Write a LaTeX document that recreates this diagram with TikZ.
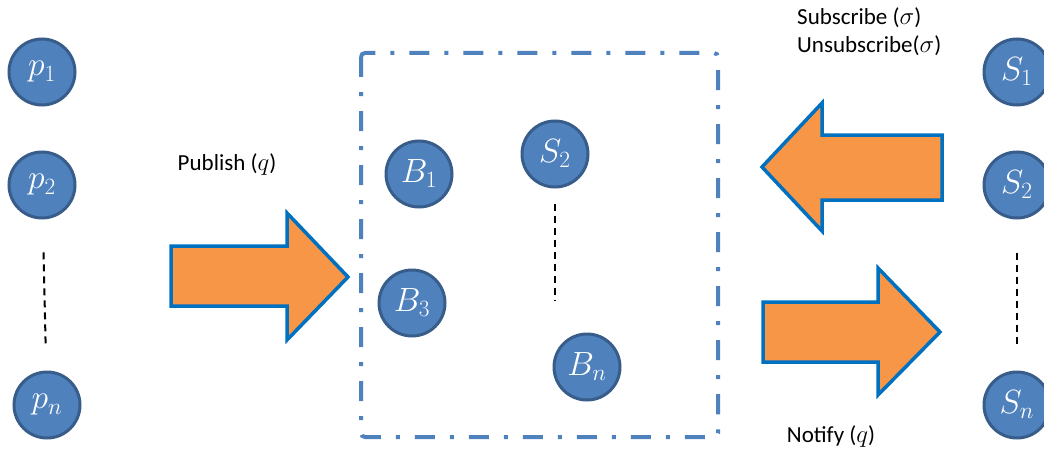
\documentclass[tikz,border=0pt]{standalone}
\usepackage{amsmath}
\usepackage{graphicx}
\usepackage{fontspec}
\setmainfont{Carlito}
\usepackage{tikz}

\definecolor{ballblue}{HTML}{4F81BD}
\definecolor{balledge}{HTML}{385D8A}
\definecolor{arroworange}{HTML}{F79646}
\definecolor{arrowedge}{HTML}{0070C0}

\newcommand{\ballmath}[1]{\scalebox{1.35}{$#1$}}

\tikzset{
  ball/.style = {circle, fill=ballblue, draw=balledge, line width=3pt,
                 minimum size=66pt, inner sep=0pt, text=white,
                 font=\fontsize{24}{24}\selectfont},
  blockarrow/.style = {fill=arroworange, draw=arrowedge, line width=3.5pt, line join=miter},
  dotline/.style = {black, line width=2pt, dash pattern=on 7pt off 5pt},
  label/.style = {font=\fontsize{23}{28}\selectfont, inner sep=0pt}
}

\begin{document}
\begin{tikzpicture}[x=1pt, y=-1pt]
\useasboundingbox (0,0) rectangle (1044,452);

% publishers
\node[ball] (p1) at (42,72) {\ballmath{p_1}};
\node[ball] (p2) at (42,185) {\ballmath{p_2}};
\node[ball] (pn) at (47,405) {\ballmath{p_n}};
\draw[dotline, shorten <=33pt, shorten >=24pt] (p2) -- (pn);

% broker overlay
\draw[ballblue, line width=4pt, rounded corners=4pt,
      dash pattern=on 20pt off 15pt on 4pt off 15pt] (361,53) rectangle (718,437);
\node[ball] (b1) at (419,174) {\ballmath{B_1}};
\node[ball] (b3) at (412,303) {\ballmath{B_3}};
\node[ball] (bs2) at (555,154) {\ballmath{S_2}};
\node[ball] (bn) at (587,367) {\ballmath{B_n}};
\coordinate (bend) at (555,300);
\draw[dotline, shorten <=15pt] (bs2) -- (bend);

% subscribers
\node[ball] (s1) at (1017,72) {\ballmath{S_1}};
\node[ball] (s2) at (1017,185) {\ballmath{S_2}};
\node[ball] (sn) at (1017,405) {\ballmath{S_n}};
\draw[dotline, shorten <=33pt, shorten >=24pt] (s2) -- (sn);

% block arrows
\draw[blockarrow] (171,246) -- (287,246) -- (287,213) -- (348,277)
  -- (287,340) -- (287,306) -- (171,306) -- cycle;
\draw[blockarrow] (942,135) -- (822,135) -- (822,103) -- (762,167)
  -- (822,231) -- (822,200) -- (942,200) -- cycle;
\draw[blockarrow] (763,302) -- (878,302) -- (878,268) -- (940,332)
  -- (878,395) -- (878,362) -- (763,362) -- cycle;

% labels
\node[label] (publish) at (227,165) {Publish ($q$)};
\node[label, align=left, anchor=west] (subscribe) at (797,32)
  {Subscribe ($\sigma$)\\Unsubscribe($\sigma$)};
\node[label] (notify) at (831,437) {Notify ($q$)};
\end{tikzpicture}
\end{document}
